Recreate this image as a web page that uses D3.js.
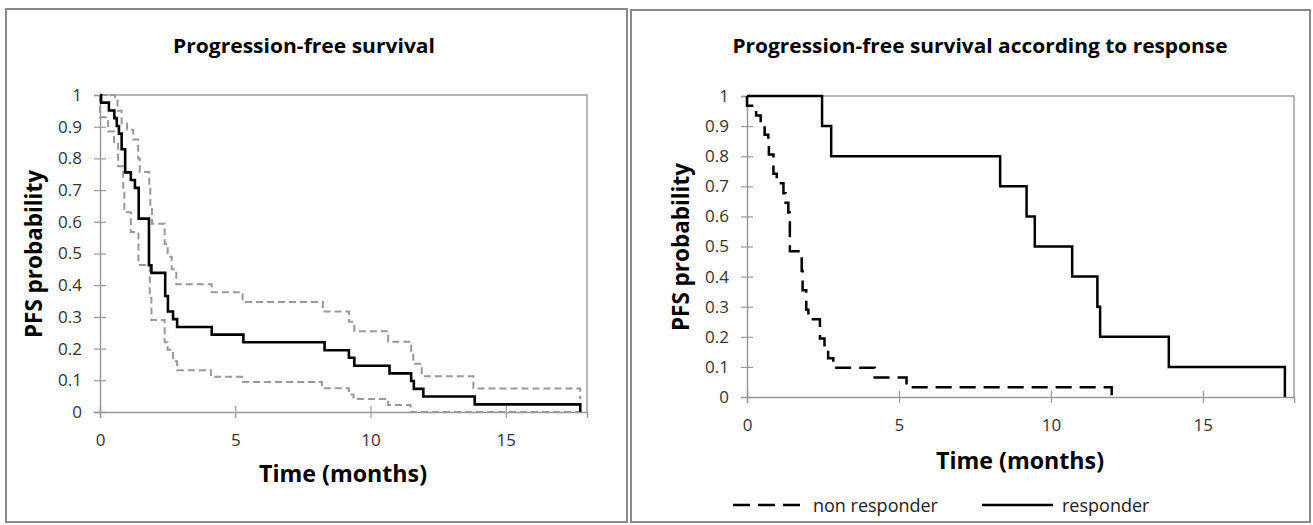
<!DOCTYPE html>
<html>
<head>
<meta charset="utf-8">
<script src="https://cdn.jsdelivr.net/npm/d3@7"></script>
<style>
  body { margin: 0; background: #fff; }
  svg { display: block; }
  .tick text { font-family: "Open Sans", sans-serif; font-size: 17px; fill: #333; }
</style>
</head>
<body>
<div id="chart"></div>
<script>
// tick values / labels
var timeTicks = [0, 5, 10, 15];
var probTicks = [0, 0.1, 0.2, 0.3, 0.4, 0.5, 0.6, 0.7, 0.8, 0.9, 1];
var probLabels = ["0", "0.1", "0.2", "0.3", "0.4", "0.5", "0.6", "0.7", "0.8", "0.9", "1"];

// left panel: overall PFS (Kaplan-Meier) with 95% CI
var pfsTime = [0, 0.04, 0.33, 0.53, 0.62, 0.7, 0.8, 0.93, 1.14, 1.29, 1.43, 1.81, 1.9, 2.41, 2.51, 2.7, 2.85, 4.13, 5.3, 8.3, 9.2, 9.4, 10.7, 11.5, 11.6, 11.95, 13.85, 17.75];
var pfsProb = [1, 0.976, 0.951, 0.927, 0.902, 0.878, 0.829, 0.756, 0.732, 0.707, 0.61, 0.463, 0.439, 0.366, 0.317, 0.293, 0.268, 0.244, 0.22, 0.195, 0.171, 0.146, 0.122, 0.098, 0.073, 0.049, 0.024, 0];

var upperTime = [0, 0.55, 0.65, 0.8, 1.0, 1.23, 1.41, 1.47, 1.82, 1.86, 1.92, 2.39, 2.5, 2.65, 2.82, 4.13, 5.27, 8.24, 9.2, 9.4, 10.65, 11.5, 11.58, 11.89, 13.8, 17.75];
var upperProb = [1, 0.99, 0.95, 0.91, 0.89, 0.86, 0.8, 0.757, 0.72, 0.65, 0.594, 0.53, 0.49, 0.45, 0.403, 0.378, 0.347, 0.317, 0.285, 0.255, 0.222, 0.185, 0.152, 0.113, 0.074, 0.04];

var lowerTime = [0, 0, 0.3, 0.52, 0.67, 0.86, 0.9, 1.14, 1.42, 1.84, 1.9, 2.39, 2.5, 2.7, 2.85, 4.1, 5.25, 8.2, 9.2, 9.37, 10.65, 11.48, 17.75];
var lowerProb = [1, 0.93, 0.885, 0.846, 0.775, 0.7, 0.63, 0.568, 0.464, 0.36, 0.29, 0.22, 0.196, 0.16, 0.132, 0.111, 0.095, 0.075, 0.055, 0.041, 0.022, 0, 0];

// right panel: PFS by response
var nonRespTime = [0, 0, 0.3, 0.45, 0.58, 0.7, 0.72, 0.87, 0.98, 1.2, 1.27, 1.36, 1.41, 1.8, 1.83, 1.95, 2.02, 2.4, 2.55, 2.67, 2.84, 4.2, 5.25, 12.0];
var nonRespProb = [1, 0.968, 0.935, 0.903, 0.871, 0.839, 0.806, 0.742, 0.71, 0.677, 0.645, 0.613, 0.484, 0.419, 0.355, 0.29, 0.258, 0.194, 0.161, 0.129, 0.097, 0.065, 0.032, 0];

var respTime = [0, 2.47, 2.77, 8.33, 9.2, 9.47, 10.7, 11.53, 11.62, 13.88, 17.7];
var respProb = [1, 0.9, 0.8, 0.7, 0.6, 0.5, 0.4, 0.3, 0.2, 0.1, 0];

var svg = d3.select("#chart").append("svg")
    .attr("width", 1313)
    .attr("height", 525);

// panel frames
svg.append("rect").attr("x", 6).attr("y", 9).attr("width", 621).attr("height", 513)
    .attr("fill", "none").attr("stroke", "#8a8a8a").attr("stroke-width", 2);
svg.append("rect").attr("x", 631).attr("y", 10).attr("width", 679).attr("height", 512)
    .attr("fill", "none").attr("stroke", "#8a8a8a").attr("stroke-width", 2);

function zip(ts, ps) {
    return ts.map(function(t, i) { return [t, ps[i]]; });
}

var boldFont = "'Open Sans', sans-serif";

function drawPanel(o) {
    var x = d3.scaleLinear().domain([0, 18]).range([o.left, o.right]);
    var y = d3.scaleLinear().domain([0, 1]).range([o.bottom, o.top]);
    var g = svg.append("g");

    // plot box (top + right)
    g.append("path")
        .attr("d", "M" + o.left + "," + o.top + "H" + o.right + "V" + o.bottom)
        .attr("fill", "none").attr("stroke", "#a0a0a0").attr("stroke-width", 1.5);

    var yAxis = g.append("g")
        .attr("transform", "translate(" + o.left + ",0)")
        .call(d3.axisLeft(y).tickValues(probTicks).tickSize(6).tickPadding(12)
            .tickFormat(function(d, i) { return probLabels[i]; }));
    var xAxis = g.append("g")
        .attr("transform", "translate(0," + o.bottom + ")")
        .call(d3.axisBottom(x).tickValues(timeTicks).tickSize(6).tickPadding(o.xPad)
            .tickFormat(d3.format("d")));

    [yAxis, xAxis].forEach(function(a) {
        a.select(".domain").attr("stroke", "#999").attr("stroke-width", 1.5);
        a.selectAll(".tick line").attr("stroke", "#999").attr("stroke-width", 1.2);
    });
    yAxis.selectAll(".tick line").attr("x1", 6);
    xAxis.selectAll(".tick line").attr("y1", -6);

    var line = d3.line()
        .x(function(d) { return x(d[0]); })
        .y(function(d) { return y(d[1]); })
        .curve(d3.curveStepAfter);

    o.series.forEach(function(s) {
        g.append("path")
            .datum(zip(s.t, s.p))
            .attr("d", line)
            .attr("fill", "none")
            .attr("stroke", s.color)
            .attr("stroke-width", s.width)
            .attr("stroke-dasharray", s.dash || null);
    });

    // titles
    g.append("text")
        .attr("x", o.titleX).attr("y", 53)
        .attr("text-anchor", "middle")
        .attr("textLength", o.titleLen).attr("lengthAdjust", "spacingAndGlyphs")
        .style("font-family", boldFont)
        .style("font-weight", "bold").style("font-size", "19px")
        .text(o.title);
    g.append("text")
        .attr("transform", "translate(" + o.yLabX + "," + o.yLabY + ") rotate(-90)")
        .attr("text-anchor", "middle")
        .attr("textLength", 168).attr("lengthAdjust", "spacingAndGlyphs")
        .style("font-family", boldFont)
        .style("font-weight", "bold").style("font-size", "24px")
        .text("PFS probability");
    g.append("text")
        .attr("x", o.xLabX).attr("y", o.xLabY)
        .attr("text-anchor", "middle")
        .attr("textLength", 168).attr("lengthAdjust", "spacingAndGlyphs")
        .style("font-family", boldFont)
        .style("font-weight", "bold").style("font-size", "24px")
        .text("Time (months)");
}

drawPanel({
    left: 100, right: 587, top: 95, bottom: 412, xPad: 16,
    title: "Progression-free survival", titleX: 304, titleLen: 262,
    yLabX: 42, yLabY: 254, xLabX: 343, xLabY: 482,
    series: [
        {t: upperTime, p: upperProb, color: "#999", width: 2, dash: "7,4"},
        {t: lowerTime, p: lowerProb, color: "#999", width: 2, dash: "7,4"},
        {t: pfsTime, p: pfsProb, color: "#000", width: 2.6}
    ]
});

drawPanel({
    left: 747, right: 1294, top: 96, bottom: 397, xPad: 16,
    title: "Progression-free survival according to response", titleX: 980, titleLen: 495,
    yLabX: 689, yLabY: 247, xLabX: 1020, xLabY: 469,
    series: [
        {t: nonRespTime, p: nonRespProb, color: "#000", width: 2.5, dash: "16,8"},
        {t: respTime, p: respProb, color: "#000", width: 2.5}
    ]
});

// legend
var legend = svg.append("g").attr("transform", "translate(733,505)");
var legendItems = [
    {label: "non responder", dash: "17,8", x: 0, tx: 80},
    {label: "responder", dash: null, x: 249, tx: 329}
];
legend.selectAll("line").data(legendItems).enter().append("line")
    .attr("x1", function(d) { return d.x; })
    .attr("x2", function(d) { return d.x + 71; })
    .attr("stroke", "#000").attr("stroke-width", 2.5)
    .attr("stroke-dasharray", function(d) { return d.dash; });
legend.selectAll("text").data(legendItems).enter().append("text")
    .attr("x", function(d) { return d.tx; })
    .attr("y", 7)
    .style("font-family", "'Open Sans', sans-serif")
    .style("font-size", "18px").style("fill", "#222")
    .text(function(d) { return d.label; });
</script>
</body>
</html>
